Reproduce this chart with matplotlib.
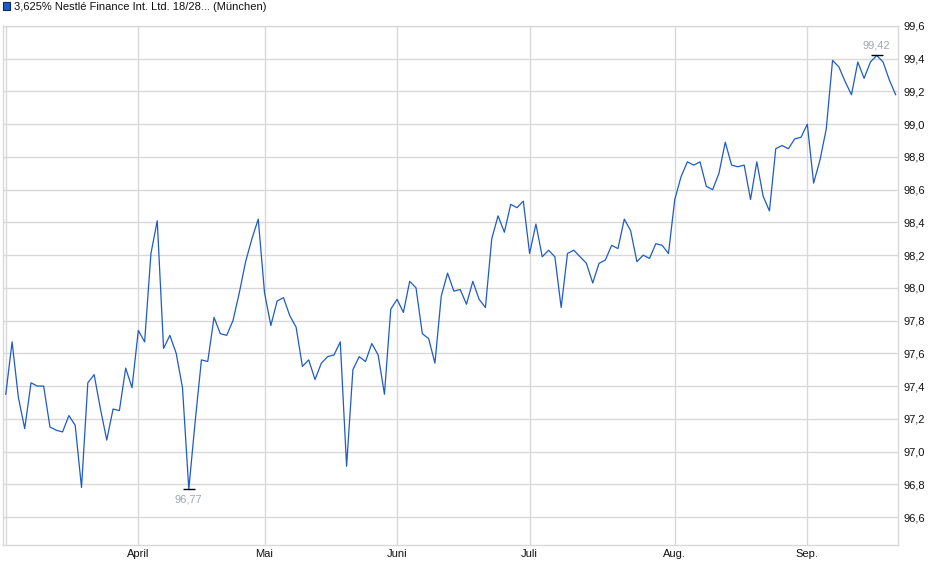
import numpy as np
import matplotlib
matplotlib.use("Agg")
import matplotlib.pyplot as plt
from matplotlib.patches import Rectangle

plt.rcParams['font.family'] = ['Liberation Sans', 'DejaVu Sans']

# Schlusskurse, ein Wert pro Handelstag (03.03. - 19.09.)
kurse = [97.35, 97.67, 97.33, 97.14, 97.42, 97.40, 97.40, 97.15, 97.13, 97.12,
         97.22, 97.16, 96.78, 97.42, 97.47, 97.26, 97.07, 97.26, 97.25, 97.51,
         97.39, 97.74, 97.67, 98.21, 98.41, 97.63, 97.71, 97.60, 97.39, 96.77,
         97.18, 97.56, 97.55, 97.82, 97.72, 97.71, 97.80, 97.97, 98.16, 98.30,
         98.42, 97.97, 97.77, 97.92, 97.94, 97.83, 97.76, 97.52, 97.56, 97.44,
         97.54, 97.58, 97.59, 97.67, 96.91, 97.50, 97.58, 97.55, 97.66, 97.59,
         97.35, 97.87, 97.93, 97.85, 98.04, 98.00, 97.72, 97.69, 97.54, 97.95,
         98.09, 97.98, 97.99, 97.90, 98.04, 97.93, 97.88, 98.30, 98.44, 98.34,
         98.51, 98.49, 98.53, 98.21, 98.39, 98.19, 98.23, 98.19, 97.88, 98.21,
         98.23, 98.19, 98.15, 98.03, 98.15, 98.17, 98.26, 98.24, 98.42, 98.35,
         98.16, 98.20, 98.18, 98.27, 98.26, 98.21, 98.54, 98.68, 98.77, 98.75,
         98.77, 98.62, 98.60, 98.70, 98.89, 98.75, 98.74, 98.75, 98.54, 98.77,
         98.56, 98.47, 98.85, 98.87, 98.85, 98.91, 98.92, 99.00, 98.64, 98.78,
         98.97, 99.39, 99.35, 99.26, 99.18, 99.38, 99.28, 99.38, 99.42, 99.38,
         99.27, 99.18]

# erster Handelstag je Monat (Index)
monat_idx = [0, 21, 41, 62, 83, 106, 127]
monat_lbl = ['', 'April', 'Mai', 'Juni', 'Juli', 'Aug.', 'Sep.']

y_ticks = [96.6, 96.8, 97.0, 97.2, 97.4, 97.6, 97.8, 98.0, 98.2, 98.4,
           98.6, 98.8, 99.0, 99.2, 99.4, 99.6]

titel = '3,625% Nestlé Finance Int. Ltd. 18/28... (München)'

W, H = 940, 579
fig = plt.figure(figsize=(W / 100, H / 100), dpi=100)
ax = fig.add_axes([3 / W, 1 - 545 / H, 895 / W, 519 / H])

x = np.arange(len(kurse))
y = np.array(kurse)
linie = '#1f5bc4'
grid = '#d9d9d9'

ax.plot(x, y, color=linie, lw=0.9, zorder=3)

ax.set_xlim(-0.44, 141.37)
ax.set_ylim(96.429, 99.6)

ax.set_xticks(monat_idx)
ax.set_xticklabels(monat_lbl, fontsize=8)
ax.set_yticks(y_ticks)
ax.set_yticklabels([('%.1f' % v).replace('.', ',') for v in y_ticks], fontsize=8)
ax.yaxis.tick_right()
ax.tick_params(axis='both', length=0, colors='#111111')
ax.tick_params(axis='x', pad=3)
ax.tick_params(axis='y', pad=4)
ax.grid(True, color=grid, lw=1)
ax.set_axisbelow(True)
for s in ax.spines.values():
    s.set_color(grid)
    s.set_linewidth(1)

# Minimum / Maximum markieren
i_min = int(np.argmin(y))
i_max = int(np.argmax(y))
for i, dy, va in [(i_min, -4, 'top'), (i_max, 3.5, 'bottom')]:
    ax.plot([x[i]], [y[i]], marker='_', ms=9, mew=1, color='black', zorder=4)
    ax.annotate(('%.2f' % y[i]).replace('.', ','), (x[i], y[i]),
                xytext=(0, dy), textcoords='offset points',
                ha='center', va=va, fontsize=8, color='#a0a4b4')

# Legende oben links
fig.patches.append(Rectangle((3 / W, 1 - 10 / H), 7 / W, 8 / H,
                             transform=fig.transFigure, facecolor='#1f5bc4',
                             edgecolor='#0b2a66', lw=0.8))
fig.text(14 / W, 1 - 6.5 / H, titel, fontsize=8, va='center', ha='left',
         color='#111111')

fig.savefig('out.png', dpi=100)
